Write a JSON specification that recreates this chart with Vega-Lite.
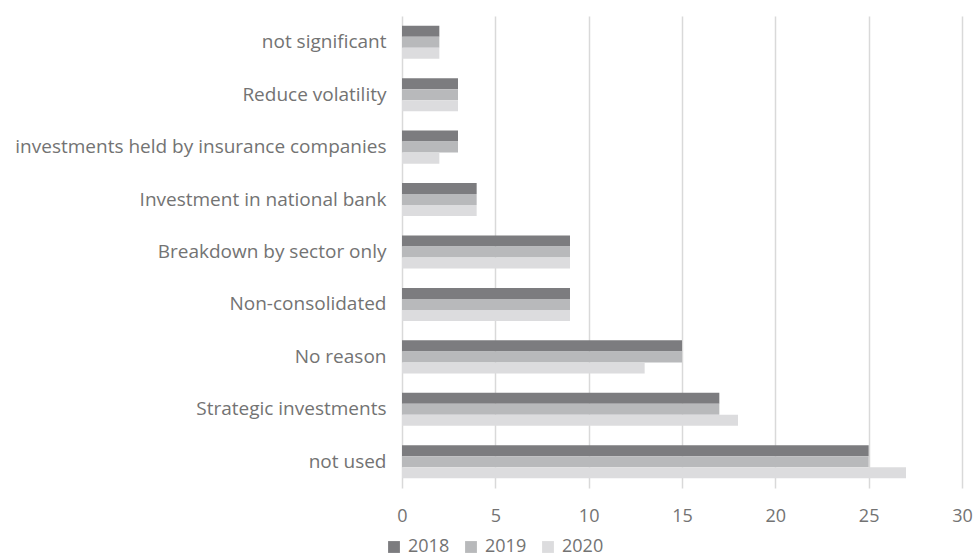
{
  "$schema": "https://vega.github.io/schema/vega-lite/v6.json",
  "width": 560,
  "height": 472,
  "autosize": "none",
  "padding": {"left": 402, "top": 16, "right": 11, "bottom": 71},
  "background": "white",
  "config": {
    "view": {"stroke": null},
    "font": "Open Sans",
    "axis": {"labelFont": "Open Sans", "labelColor": "#737373"},
    "legend": {"labelFont": "Open Sans", "labelColor": "#737373"}
  },
  "data": {
    "values": [
      {"reason": "not significant", "year": "2018", "count": 2},
      {"reason": "not significant", "year": "2019", "count": 2},
      {"reason": "not significant", "year": "2020", "count": 2},
      {"reason": "Reduce volatility", "year": "2018", "count": 3},
      {"reason": "Reduce volatility", "year": "2019", "count": 3},
      {"reason": "Reduce volatility", "year": "2020", "count": 3},
      {"reason": "investments held by insurance companies", "year": "2018", "count": 3},
      {"reason": "investments held by insurance companies", "year": "2019", "count": 3},
      {"reason": "investments held by insurance companies", "year": "2020", "count": 2},
      {"reason": "Investment in national bank", "year": "2018", "count": 4},
      {"reason": "Investment in national bank", "year": "2019", "count": 4},
      {"reason": "Investment in national bank", "year": "2020", "count": 4},
      {"reason": "Breakdown by sector only", "year": "2018", "count": 9},
      {"reason": "Breakdown by sector only", "year": "2019", "count": 9},
      {"reason": "Breakdown by sector only", "year": "2020", "count": 9},
      {"reason": "Non-consolidated", "year": "2018", "count": 9},
      {"reason": "Non-consolidated", "year": "2019", "count": 9},
      {"reason": "Non-consolidated", "year": "2020", "count": 9},
      {"reason": "No reason", "year": "2018", "count": 15},
      {"reason": "No reason", "year": "2019", "count": 15},
      {"reason": "No reason", "year": "2020", "count": 13},
      {"reason": "Strategic investments", "year": "2018", "count": 17},
      {"reason": "Strategic investments", "year": "2019", "count": 17},
      {"reason": "Strategic investments", "year": "2020", "count": 18},
      {"reason": "not used", "year": "2018", "count": 25},
      {"reason": "not used", "year": "2019", "count": 25},
      {"reason": "not used", "year": "2020", "count": 27}
    ]
  },
  "mark": {"type": "bar"},
  "encoding": {
    "y": {
      "field": "reason",
      "type": "nominal",
      "sort": null,
      "scale": {"paddingInner": 0.37, "paddingOuter": 0.185},
      "axis": {
        "title": null,
        "domain": false,
        "ticks": false,
        "labelFontSize": 19,
        "labelPadding": 16,
        "labelLimit": 400
      }
    },
    "yOffset": {"field": "year", "type": "nominal", "sort": "ascending"},
    "x": {
      "field": "count",
      "type": "quantitative",
      "scale": {"domain": [0, 30], "nice": false},
      "axis": {
        "title": null,
        "values": [0, 5, 10, 15, 20, 25, 30],
        "domain": false,
        "ticks": false,
        "grid": true,
        "gridColor": "#d9d9d9",
        "gridWidth": 1.5,
        "labelFontSize": 18,
        "labelPadding": 19,
        "labelFlush": false
      }
    },
    "color": {
      "field": "year",
      "type": "nominal",
      "scale": {"domain": ["2018", "2019", "2020"], "range": ["#7c7c7f", "#b8b9bb", "#dcdcde"]},
      "legend": {
        "title": null,
        "orient": "none",
        "direction": "horizontal",
        "legendX": -17,
        "legendY": 522,
        "symbolType": "square",
        "symbolSize": 140,
        "symbolStrokeWidth": 0,
        "labelFontSize": 18,
        "labelOffset": 5,
        "columnPadding": 12
      }
    }
  }
}
